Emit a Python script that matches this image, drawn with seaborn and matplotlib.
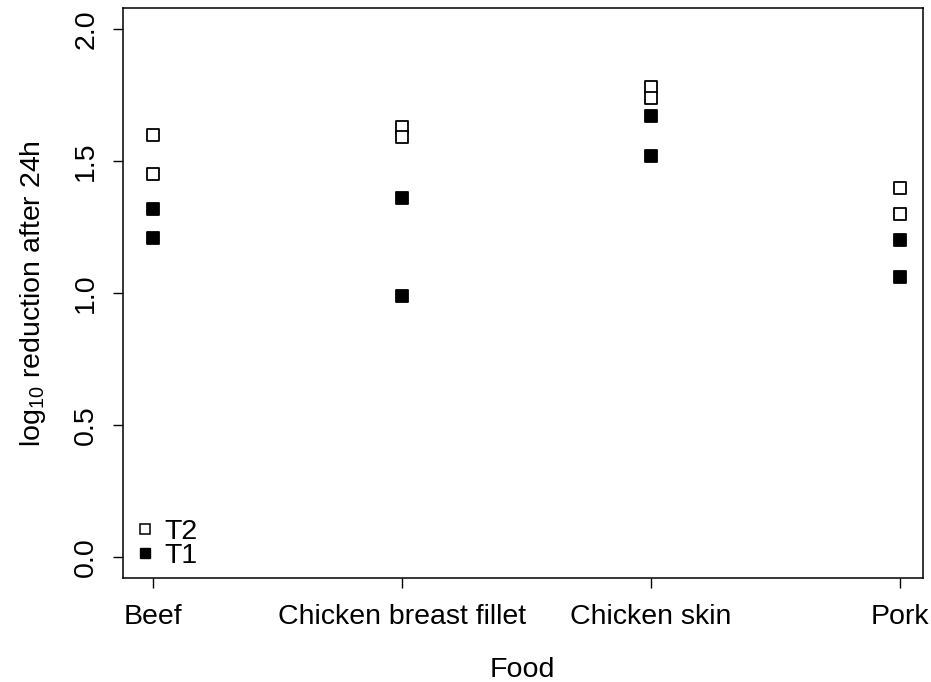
import matplotlib
matplotlib.use("Agg")
import matplotlib.pyplot as plt
from matplotlib.lines import Line2D
import seaborn as sns
import pandas as pd

foods = ["Beef", "Chicken breast fillet", "Chicken skin", "Pork"]
t1_values = [[1.32, 1.21], [1.36, 0.99], [1.67, 1.52], [1.20, 1.06]]
t2_values = [[1.60, 1.45], [1.63, 1.59], [1.78, 1.74], [1.40, 1.30]]
y_ticks = [0.0, 0.5, 1.0, 1.5, 2.0]

rows = []
for food, v1, v2 in zip(foods, t1_values, t2_values):
    for v in v1:
        rows.append({"Food": food, "Treatment": "T1", "value": v})
    for v in v2:
        rows.append({"Food": food, "Treatment": "T2", "value": v})
df = pd.DataFrame(rows)
df["pos"] = df["Food"].map({f: i for i, f in enumerate(foods)})

sns.set_style("white")
plt.rcParams["font.family"] = ["Liberation Sans", "DejaVu Sans"]
plt.rcParams["mathtext.default"] = "regular"
plt.rcParams["text.color"] = "black"
plt.rcParams["axes.labelcolor"] = "black"
plt.rcParams["xtick.color"] = "black"
plt.rcParams["ytick.color"] = "black"

fs = 20.5

fig = plt.figure(figsize=(9.31, 6.82), dpi=100)
ax = fig.add_axes([0.132, 0.1525, 0.859, 0.8355])

ms = 80
sns.scatterplot(data=df[df["Treatment"] == "T2"], x="pos", y="value", ax=ax,
                marker="s", s=ms, facecolor="white", edgecolor="black",
                linewidth=1.3, legend=False, zorder=3)
sns.scatterplot(data=df[df["Treatment"] == "T1"], x="pos", y="value", ax=ax,
                marker="s", s=ms, color="black", edgecolor="black",
                linewidth=1.3, legend=False, zorder=3)

ax.set_xlim(-0.12, 3.09)
ax.set_ylim(-0.08, 2.08)
ax.set_xticks(range(len(foods)))
ax.set_xticklabels(foods, fontsize=fs)
ax.set_yticks(y_ticks)
ax.set_yticklabels([f"{t:.1f}" for t in y_ticks], fontsize=fs,
                   rotation=90, va="center")
ax.tick_params(axis="both", direction="out", length=7, width=1.0,
               color="black", labelcolor="black", left=True, bottom=True)
ax.tick_params(axis="x", pad=12)
ax.tick_params(axis="y", pad=10)
for sp in ax.spines.values():
    sp.set_visible(True)
    sp.set_color("black")
    sp.set_linewidth(1.1)

ax.set_xlabel("Food", fontsize=fs, labelpad=19, color="black")
ax.set_ylabel("log$_{10}$ reduction after 24h", fontsize=fs, labelpad=18,
              color="black")

handles = [
    Line2D([], [], linestyle="none", marker="s", markersize=7,
           markerfacecolor="white", markeredgecolor="black", markeredgewidth=1.1),
    Line2D([], [], linestyle="none", marker="s", markersize=7,
           markerfacecolor="black", markeredgecolor="black"),
]
ax.legend(handles, ["T2", "T1"], loc="lower left", frameon=False,
          fontsize=fs, handlelength=0.6, handletextpad=0.4,
          labelspacing=-0.05, borderaxespad=0.2,
          bbox_to_anchor=(-0.005, -0.015))

fig.savefig("out.png", dpi=100)
